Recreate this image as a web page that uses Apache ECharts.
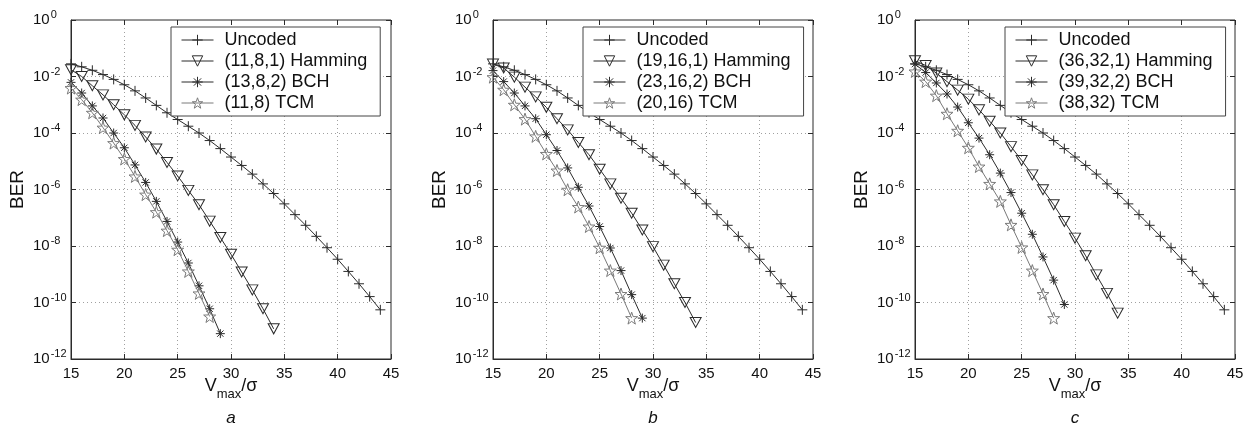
<!DOCTYPE html>
<html>
<head>
<meta charset="utf-8">
<style>
html, body { margin: 0; padding: 0; background: #fff; }
#chart { width: 1252px; height: 437px; }
</style>
<script src="https://cdn.jsdelivr.net/npm/echarts@6/dist/echarts.min.js"></script>
</head>
<body>
<div id="chart"></div>
<script>
// Vmax/sigma values
const snrUncoded = [15, 16, 17, 18, 19, 20, 21, 22, 23, 24, 25, 26, 27, 28, 29, 30, 31, 32, 33, 34, 35, 36, 37, 38, 39, 40, 41, 42, 43, 44]
const snrHamming = [15, 16, 17, 18, 19, 20, 21, 22, 23, 24, 25, 26, 27, 28, 29, 30, 31, 32, 33, 34]
const snrBch = [15, 16, 17, 18, 19, 20, 21, 22, 23, 24, 25, 26, 27, 28, 29]
const snrTcm = [15, 16, 17, 18, 19, 20, 21, 22, 23, 24, 25, 26, 27, 28]

// BER
const berUncoded = [2.8e-2, 2.2e-2, 1.66e-2, 1.17e-2, 7.9e-3, 5.1e-3, 3.1e-3, 1.74e-3, 9.5e-4, 5.2e-4, 3.0e-4, 1.74e-4, 1.0e-4, 5.4e-5, 2.8e-5, 1.41e-5, 7.1e-6, 3.5e-6, 1.58e-6, 7.2e-7, 3.1e-7, 1.29e-7, 5.4e-8, 2.2e-8, 8.7e-9, 3.4e-9, 1.26e-9, 4.6e-10, 1.62e-10, 5.5e-11]

const berHammingA = [1.74e-2, 1.0e-2, 4.7e-3, 2.24e-3, 1.0e-3, 4.4e-4, 1.86e-4, 7.2e-5, 2.7e-5, 9.1e-6, 3.0e-6, 9.3e-7, 2.9e-7, 7.6e-8, 2.0e-8, 5.1e-9, 1.2e-9, 2.8e-10, 6.0e-11, 1.17e-11]
const berBchA = [6.2e-3, 2.6e-3, 9.1e-4, 3.4e-4, 1.0e-4, 3.0e-5, 7.4e-6, 1.78e-6, 3.8e-7, 7.4e-8, 1.38e-8, 2.5e-9, 3.9e-10, 6.0e-11, 7.9e-12]
const berTcmA = [3.9e-3, 1.52e-3, 5.2e-4, 1.55e-4, 4.4e-5, 1.2e-5, 2.9e-6, 6.6e-7, 1.58e-7, 3.5e-8, 7.4e-9, 1.26e-9, 2.1e-10, 3.2e-11]

const berHammingB = [2.75e-2, 2.0e-2, 9.5e-3, 4.2e-3, 1.9e-3, 8.1e-4, 3.2e-4, 1.29e-4, 4.6e-5, 1.7e-5, 5.2e-6, 1.58e-6, 4.9e-7, 1.45e-7, 3.7e-8, 9.5e-9, 2.1e-9, 4.6e-10, 1.0e-10, 1.95e-11]
const berBchB = [1.62e-2, 6.6e-3, 2.6e-3, 9.1e-4, 3.2e-4, 8.7e-5, 2.4e-5, 5.8e-6, 1.2e-6, 2.6e-7, 4.9e-8, 8.5e-9, 1.35e-9, 1.9e-10, 2.8e-11]
const berTcmB = [9.5e-3, 3.4e-3, 1.0e-3, 3.1e-4, 7.6e-5, 1.82e-5, 4.7e-6, 9.8e-7, 2.4e-7, 4.9e-8, 8.7e-9, 1.35e-9, 2.0e-10, 2.8e-11]

const berHammingC = [3.6e-2, 2.45e-2, 1.32e-2, 6.6e-3, 3.3e-3, 1.58e-3, 6.6e-4, 2.6e-4, 1.0e-4, 3.3e-5, 1.07e-5, 3.3e-6, 9.8e-7, 2.9e-7, 7.4e-8, 1.9e-8, 4.5e-9, 9.5e-10, 2.1e-10, 4.2e-11]
const berBchC = [2.75e-2, 1.38e-2, 5.9e-3, 2.4e-3, 8.3e-4, 2.3e-4, 6.6e-5, 1.7e-5, 3.8e-6, 7.8e-7, 1.45e-7, 2.6e-8, 4.1e-9, 6.2e-10, 8.5e-11]
const berTcmC = [1.51e-2, 6.6e-3, 2.1e-3, 4.8e-4, 1.2e-4, 3.0e-5, 6.5e-6, 1.58e-6, 3.8e-7, 5.6e-8, 8.9e-9, 1.35e-9, 2.0e-10, 2.8e-11]

const namesA = ['Uncoded', '(11,8,1) Hamming', '(13,8,2) BCH', '(11,8) TCM']
const namesB = ['Uncoded', '(19,16,1) Hamming', '(23,16,2) BCH', '(20,16) TCM']
const namesC = ['Uncoded', '(36,32,1) Hamming', '(39,32,2) BCH', '(38,32) TCM']
const panelLetters = ['a', 'b', 'c']

const FONT = '"Liberation Sans", Arial, Helvetica, sans-serif'
const DARK = '#2b2b2b'
const GREY = '#7a7a7a'

const panels = [
    { names: namesA, left: 71, legendLeft: 171, ber: [berUncoded, berHammingA, berBchA, berTcmA] },
    { names: namesB, left: 493, legendLeft: 583, ber: [berUncoded, berHammingB, berBchB, berTcmB] },
    { names: namesC, left: 915, legendLeft: 1005, ber: [berUncoded, berHammingC, berBchC, berTcmC] }
]
const snrs = [snrUncoded, snrHamming, snrBch, snrTcm]

// matlab-like markers: + , v , * , pentagram
const markers = [
    { symbol: 'path://M5,0L5,10M0,5L10,5', size: [10, 10], color: DARK },
    { symbol: 'path://M0,0L10,0L5,8.7Z', size: [11, 10], color: DARK },
    { symbol: 'path://M5,0L5,10M0,5L10,5M1.5,1.5L8.5,8.5M8.5,1.5L1.5,8.5', size: [9, 9], color: DARK },
    { symbol: 'path://M10,0L12.35,6.76L19.51,6.91L13.8,11.24L15.88,18.09L10,14L4.12,18.09L6.2,11.24L0.49,6.91L7.65,6.76Z', size: [12, 12], color: GREY }
]

const gridTop = 20
const gridW = 320
const gridH = 339

const grid = []
const xAxis = []
const yAxis = []
const legend = []
const series = []
const graphic = []

const dottedSplit = {
    show: true,
    showMinLine: false,
    showMaxLine: false,
    lineStyle: { color: '#a0a0a0', width: 1, type: [1, 3] }
}
const frameLine = { show: true, onZero: false, lineStyle: { color: DARK, width: 1 } }
const innerTick = { show: true, inside: true, length: 5, lineStyle: { color: DARK, width: 1 } }

function berLabel(value) {
    const e = Math.round(Math.log10(value))
    return '{b|10}{sup|' + e + '}'
}

panels.forEach((p, i) => {
    grid.push({
        left: p.left,
        top: gridTop,
        width: gridW,
        height: gridH,
        show: true,
        borderColor: DARK,
        borderWidth: 1,
        backgroundColor: 'transparent',
        containLabel: false,
        outerBoundsMode: 'none'
    })
    xAxis.push({
        type: 'value',
        gridIndex: i,
        position: 'bottom',
        min: 15,
        max: 45,
        interval: 5,
        axisLine: frameLine,
        axisTick: innerTick,
        axisLabel: { fontSize: 15, color: '#111', margin: 7, fontFamily: FONT },
        splitLine: dottedSplit,
        name: 'V{sub|max}/σ',
        nameLocation: 'middle',
        nameGap: 13,
        nameMoveOverlap: false,
        nameTextStyle: {
            fontSize: 18,
            color: '#111',
            fontFamily: FONT,
            rich: { sub: { fontSize: 13, color: '#111', fontFamily: FONT, padding: [16, 0, 0, 0] } }
        }
    })
    xAxis.push({
        type: 'value',
        gridIndex: i,
        position: 'top',
        min: 15,
        max: 45,
        interval: 5,
        axisLine: { show: false },
        axisTick: innerTick,
        axisLabel: { show: false },
        splitLine: { show: false }
    })
    yAxis.push({
        type: 'log',
        logBase: 10,
        gridIndex: i,
        position: 'left',
        min: 1e-12,
        max: 1,
        interval: 2,
        axisLine: frameLine,
        axisTick: innerTick,
        axisLabel: {
            align: 'left',
            margin: 38,
            fontSize: 15,
            color: '#111',
            fontFamily: FONT,
            formatter: berLabel,
            rich: {
                b: { fontSize: 15, lineHeight: 17, color: '#111', fontFamily: FONT },
                sup: { fontSize: 11, lineHeight: 12, color: '#111', fontFamily: FONT, padding: [0, 0, 10, 1] }
            }
        },
        splitLine: dottedSplit,
        name: 'BER',
        nameLocation: 'middle',
        nameRotate: 90,
        nameGap: 44,
        nameMoveOverlap: false,
        nameTextStyle: { fontSize: 19, color: '#111', fontFamily: FONT }
    })
    yAxis.push({
        type: 'log',
        logBase: 10,
        gridIndex: i,
        position: 'right',
        min: 1e-12,
        max: 1,
        interval: 2,
        axisLine: { show: false },
        axisTick: innerTick,
        axisLabel: { show: false },
        splitLine: { show: false }
    })

    p.names.forEach((name, k) => {
        const m = markers[k]
        series.push({
            name: name,
            type: 'line',
            xAxisIndex: i * 2,
            yAxisIndex: i * 2,
            data: snrs[k].map((x, j) => [x, p.ber[k][j]]),
            symbol: m.symbol,
            symbolSize: m.size,
            showAllSymbol: true,
            color: m.color,
            lineStyle: { color: m.color, width: 1 },
            itemStyle: { color: 'rgba(0,0,0,0)', borderColor: m.color, borderWidth: 1 },
            emphasis: { disabled: true },
            silent: true,
            z: 3 + k
        })
    })

    legend.push({
        left: p.legendLeft,
        top: 27,
        orient: 'vertical',
        data: p.names,
        selectedMode: false,
        itemWidth: 32,
        itemHeight: 13,
        itemGap: 3,
        padding: [4, 13, 4, 10],
        backgroundColor: '#fff',
        borderColor: '#444',
        borderWidth: 1,
        borderRadius: 0,
        itemStyle: { borderWidth: 1 },
        lineStyle: { width: 1 },
        textStyle: { fontSize: 18, color: '#111', fontFamily: FONT, padding: [0, 0, 0, 6] }
    })

    graphic.push({
        type: 'text',
        x: p.left + gridW / 2,
        y: 418,
        silent: true,
        style: {
            text: panelLetters[i],
            fill: '#111',
            font: 'italic 17px ' + FONT,
            textAlign: 'center',
            textVerticalAlign: 'middle'
        }
    })
})

const chart = echarts.init(document.getElementById('chart'), null, { renderer: 'canvas' })
chart.setOption({
    animation: false,
    backgroundColor: '#fff',
    textStyle: { fontFamily: FONT },
    grid: grid,
    xAxis: xAxis,
    yAxis: yAxis,
    legend: legend,
    series: series,
    graphic: graphic
})
</script>
</body>
</html>
